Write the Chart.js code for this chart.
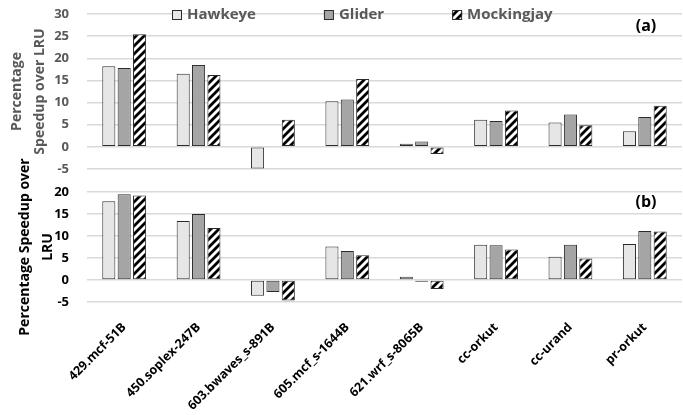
<!DOCTYPE html>
<html>
<head>
<meta charset="utf-8">
<script src="https://cdn.jsdelivr.net/npm/chart.js@4/dist/chart.umd.min.js"></script>
<style>
  body { margin: 0; background: #fff; overflow: hidden; }
  #wrap { position: relative; width: 683px; height: 415px; overflow: hidden; }
  #wrap canvas { position: absolute; left: 0; }
  #chart_a { top: -20px; }
  #chart_b { top: 0; }
</style>
</head>
<body>
<div id="wrap">
  <canvas id="chart_a" width="683" height="435"></canvas>
  <canvas id="chart_b" width="683" height="415"></canvas>
</div>
<script>
// benchmarks on the x axis (shared by both panels)
var categories = ["429.mcf-51B", "450.soplex-247B", "603.bwaves_s-891B", "605.mcf_s-1644B",
  "621.wrf_s-8065B", "cc-orkut", "cc-urand", "pr-orkut"];
var seriesNames = ["Hawkeye", "Glider", "Mockingjay"];

// panel (a)
var hawkeyeA = [18.2, 16.5, -4.9, 10.3, 0.7, 6.1, 5.5, 3.5];
var gliderA = [17.8, 18.5, -0.15, 10.7, 1.2, 5.85, 7.3, 6.75];
var mockingjayA = [25.4, 16.2, 6.1, 15.3, -1.6, 8.2, 4.9, 9.3];

// panel (b)
var hawkeyeB = [17.9, 13.4, -3.6, 7.6, 0.75, 8.0, 5.3, 8.2];
var gliderB = [19.5, 15.0, -2.75, 6.6, -0.4, 7.9, 8.0, 11.15];
var mockingjayB = [19.2, 11.8, -4.65, 5.65, -2.05, 6.95, 4.9, 11.05];

// y ticks
var ticksA = { min: -5, max: 30, step: 5 };
var ticksB = { min: -5, max: 20, step: 5 };

var FONT = "'Open Sans', 'DejaVu Sans', sans-serif";

// black/white diagonal stripes for Mockingjay
function stripes() {
  var c = document.createElement("canvas");
  c.width = 8;
  c.height = 8;
  var g = c.getContext("2d");
  g.fillStyle = "#fff";
  g.fillRect(0, 0, 8, 8);
  g.strokeStyle = "#000";
  g.lineWidth = 2.8;
  g.beginPath();
  g.moveTo(-4, 4); g.lineTo(4, -4);
  g.moveTo(0, 8); g.lineTo(8, 0);
  g.moveTo(4, 12); g.lineTo(12, 4);
  g.stroke();
  return g.createPattern(c, "repeat");
}
var pattern = stripes();
var fills = ["#e7e6e6", "#a5a5a5", pattern];

function makeDatasets(h, g, m) {
  return [h, g, m].map(function (d, i) {
    return {
      label: seriesNames[i],
      data: d,
      backgroundColor: fills[i],
      borderColor: "#2b2b2b",
      borderWidth: 1,
      borderSkipped: false,
      categoryPercentage: 0.62,
      barPercentage: 0.85,
    };
  });
}

// legend drawn across the top gridline, like the original
var legendPlugin = {
  id: "topLegend",
  afterDatasetsDraw: function (chart) {
    if (chart.canvas.id !== "chart_a") return;
    var ctx = chart.ctx;
    var area = chart.chartArea;
    ctx.save();
    ctx.font = "bold 15px " + FONT;
    ctx.textBaseline = "middle";
    var x = area.left + 85;
    var y = area.top + 1;
    chart.data.datasets.forEach(function (ds) {
      ctx.fillStyle = ds.backgroundColor;
      ctx.fillRect(x, y - 5, 10, 10);
      ctx.strokeStyle = "#2b2b2b";
      ctx.lineWidth = 1;
      ctx.strokeRect(x + 0.5, y - 4.5, 9, 9);
      ctx.fillStyle = "#595959";
      ctx.fillText(ds.label, x + 15, y);
      x += 15 + ctx.measureText(ds.label).width + 68;
    });
    ctx.restore();
  },
};

// "(a)" / "(b)" panel tags
var tagPlugin = {
  id: "panelTag",
  afterDraw: function (chart, args, opts) {
    var ctx = chart.ctx;
    var area = chart.chartArea;
    ctx.save();
    ctx.font = "bold 16px " + FONT;
    ctx.fillStyle = "#000";
    ctx.textAlign = "center";
    ctx.textBaseline = "middle";
    ctx.fillText(opts.text, area.right - 36, area.top + opts.dy);
    ctx.restore();
  },
};

function makeChart(id, datasets, t, o) {
  return new Chart(document.getElementById(id), {
    type: "bar",
    data: { labels: categories, datasets: datasets },
    options: {
      responsive: false,
      animation: false,
      devicePixelRatio: 1,
      layout: { padding: o.padding },
      plugins: {
        legend: { display: false },
        tooltip: { enabled: false },
        panelTag: { text: o.tag, dy: o.tagDy },
      },
      scales: {
        x: {
          display: o.showX,
          grid: { display: false },
          border: { display: false },
          ticks: {
            minRotation: 45,
            maxRotation: 45,
            autoSkip: false,
            padding: 10,
            color: "#000",
            font: { family: FONT, size: 12.5, weight: "bold" },
          },
          afterFit: function (s) {
            if (o.showX) s.height = 113;
          },
        },
        y: {
          min: t.min,
          max: t.max,
          border: { display: false },
          grid: { color: "#d9d9d9", lineWidth: 1.5, drawTicks: false },
          ticks: {
            stepSize: t.step,
            padding: 18,
            color: o.color,
            font: { family: FONT, size: 13, weight: "bold" },
          },
          title: {
            display: true,
            text: o.title,
            color: o.color,
            padding: { top: o.titlePad, bottom: 0 },
            font: { family: FONT, size: 14, weight: "bold", lineHeight: 1.6 },
          },
          afterFit: function (s) {
            s.width = 87;
          },
        },
      },
    },
    plugins: [legendPlugin, tagPlugin],
  });
}

// canvas (a) sits 20px above the page top, so its plot starts at y=14
makeChart("chart_a", makeDatasets(hawkeyeA, gliderA, mockingjayA), ticksA, {
  padding: { top: 34, bottom: 246, left: 0, right: 1 },
  showX: false,
  color: "#595959",
  title: ["Percentage", "Speedup over LRU"],
  titlePad: 6,
  tag: "(a)",
  tagDy: 12,
});

makeChart("chart_b", makeDatasets(hawkeyeB, gliderB, mockingjayB), ticksB, {
  padding: { top: 192, bottom: 0, left: 0, right: 1 },
  showX: true,
  color: "#000",
  title: ["Percentage Speedup over", "LRU"],
  titlePad: 14,
  tag: "(b)",
  tagDy: 10,
});
</script>
</body>
</html>
